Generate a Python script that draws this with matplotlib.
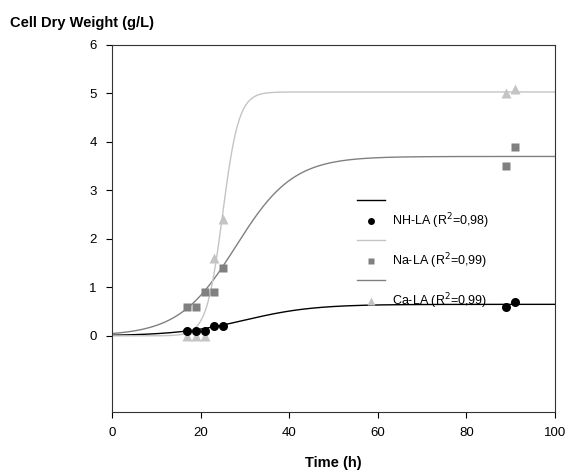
import numpy as np
import matplotlib
matplotlib.use('Agg')
import matplotlib.pyplot as plt
from matplotlib.lines import Line2D

plt.rcParams['font.family'] = ['Liberation Sans', 'DejaVu Sans']
plt.rcParams['font.size'] = 9.5

# measured cell dry weight (g/L) vs time (h)
time_h = [17, 19, 21, 23, 25, 89, 91]
nh_la = [0.1, 0.1, 0.1, 0.2, 0.2, 0.6, 0.7]
na_la = [0.6, 0.6, 0.9, 0.9, 1.4, 3.5, 3.9]
ca_la = [0.0, 0.0, 0.0, 1.6, 2.4, 5.0, 5.1]

# logistic fit parameters: (plateau, rate, midpoint)
nh_fit = (0.65, 0.13, 30.0)
na_fit = (3.70, 0.155, 28.0)
ca_fit = (5.03, 0.55, 25.0)

labels = ['NH-LA (R$^2$=0,98)', 'Na-LA (R$^2$=0,99)', 'Ca-LA (R$^2$=0,99)']


def logistic(x, a, k, x0):
    return a / (1 + np.exp(-k * (x - x0)))


fig = plt.figure(figsize=(5.68, 4.73), dpi=100)
ax = fig.add_axes([0.197, 0.129, 0.78, 0.776])

xs = np.linspace(0, 100, 400)
ax.plot(xs, logistic(xs, *nh_fit), color='black', lw=1.0)
ax.plot(xs, logistic(xs, *na_fit), color='#808080', lw=1.0)
ax.plot(xs, logistic(xs, *ca_fit), color='#c4c4c4', lw=1.0)

ax.plot(time_h, ca_la, '^', color='#c4c4c4', ms=6.5, mec='none')
ax.plot(time_h, na_la, 's', color='#808080', ms=6, mec='none')
ax.plot(time_h, nh_la, 'o', color='black', ms=6.5, mec='none')

ax.set_xlim(0, 100)
ax.set_ylim(-1.57, 6)
ax.set_xticks([0, 20, 40, 60, 80, 100])
ax.set_yticks([0, 1, 2, 3, 4, 5, 6])
ax.tick_params(direction='out', length=4, width=0.8, pad=7, labelsize=9.5)
for s in ax.spines.values():
    s.set_linewidth(0.8)
    s.set_color('#333333')

ax.set_xlabel('Time (h)', fontweight='bold', fontsize=10.5, labelpad=12)
fig.text(0.018, 0.952, 'Cell Dry Weight (g/L)', fontweight='bold', fontsize=10.5,
         ha='left', va='center')

handles = [
    Line2D([], [], color='black', lw=1.0),
    Line2D([], [], ls='none', marker='o', color='black', ms=5, mec='none'),
    Line2D([], [], color='#c4c4c4', lw=1.0),
    Line2D([], [], ls='none', marker='s', color='#808080', ms=5, mec='none'),
    Line2D([], [], color='#808080', lw=1.0),
    Line2D([], [], ls='none', marker='^', color='#c4c4c4', ms=5.5, mec='none'),
]
leg_labels = ['', labels[0], '', labels[1], '', labels[2]]
ax.legend(handles, leg_labels, frameon=False, loc='upper left',
          bbox_to_anchor=(0.6285, 0.586), bbox_transform=fig.transFigure,
          borderpad=0, borderaxespad=0, handlelength=2.25, labelspacing=0.32,
          fontsize=9, handletextpad=0.55)

fig.savefig('out.png')
